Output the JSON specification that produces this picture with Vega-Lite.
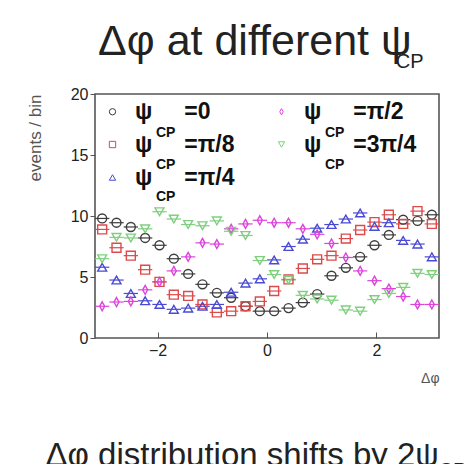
{
  "$schema": "https://vega.github.io/schema/vega-lite/v6.json",
  "background": "white",
  "padding": {"left": 25, "top": 20, "right": 0, "bottom": 0},
  "title": {
    "text": "Δφ distribution shifts by 2ψ\u00a0\u00a0\u00a0\u200b",
    "subtitle": "CP",
    "orient": "bottom",
    "anchor": "end",
    "fontSize": 33,
    "fontWeight": "normal",
    "subtitleFontSize": 20,
    "subtitlePadding": -12,
    "color": "#222",
    "subtitleColor": "#222",
    "offset": 54,
    "dx": 26
  },
  "datasets": {
    "bins": [
      {"i": 0, "lo": -3.1416, "mid": -3.0107, "hi": -2.8798},
      {"i": 1, "lo": -2.8798, "mid": -2.7489, "hi": -2.618},
      {"i": 2, "lo": -2.618, "mid": -2.4871, "hi": -2.3562},
      {"i": 3, "lo": -2.3562, "mid": -2.2253, "hi": -2.0944},
      {"i": 4, "lo": -2.0944, "mid": -1.9635, "hi": -1.8326},
      {"i": 5, "lo": -1.8326, "mid": -1.7017, "hi": -1.5708},
      {"i": 6, "lo": -1.5708, "mid": -1.4399, "hi": -1.309},
      {"i": 7, "lo": -1.309, "mid": -1.1781, "hi": -1.0472},
      {"i": 8, "lo": -1.0472, "mid": -0.9163, "hi": -0.7854},
      {"i": 9, "lo": -0.7854, "mid": -0.6545, "hi": -0.5236},
      {"i": 10, "lo": -0.5236, "mid": -0.3927, "hi": -0.2618},
      {"i": 11, "lo": -0.2618, "mid": -0.1309, "hi": 0},
      {"i": 12, "lo": 0, "mid": 0.1309, "hi": 0.2618},
      {"i": 13, "lo": 0.2618, "mid": 0.3927, "hi": 0.5236},
      {"i": 14, "lo": 0.5236, "mid": 0.6545, "hi": 0.7854},
      {"i": 15, "lo": 0.7854, "mid": 0.9163, "hi": 1.0472},
      {"i": 16, "lo": 1.0472, "mid": 1.1781, "hi": 1.309},
      {"i": 17, "lo": 1.309, "mid": 1.4399, "hi": 1.5708},
      {"i": 18, "lo": 1.5708, "mid": 1.7017, "hi": 1.8326},
      {"i": 19, "lo": 1.8326, "mid": 1.9635, "hi": 2.0944},
      {"i": 20, "lo": 2.0944, "mid": 2.2253, "hi": 2.3562},
      {"i": 21, "lo": 2.3562, "mid": 2.4871, "hi": 2.618},
      {"i": 22, "lo": 2.618, "mid": 2.7489, "hi": 2.8798},
      {"i": 23, "lo": 2.8798, "mid": 3.0107, "hi": 3.1416}
    ],
    "counts": [
      {"s": "0", "i": 0, "n": 9.8}, {"s": "0", "i": 1, "n": 9.45}, {"s": "0", "i": 2, "n": 9.1}, {"s": "0", "i": 3, "n": 8.2},
      {"s": "0", "i": 4, "n": 7.6}, {"s": "0", "i": 5, "n": 6.5}, {"s": "0", "i": 6, "n": 5.25}, {"s": "0", "i": 7, "n": 4.4},
      {"s": "0", "i": 8, "n": 3.7}, {"s": "0", "i": 9, "n": 3.3}, {"s": "0", "i": 10, "n": 2.6}, {"s": "0", "i": 11, "n": 2.2},
      {"s": "0", "i": 12, "n": 2.2}, {"s": "0", "i": 13, "n": 2.45}, {"s": "0", "i": 14, "n": 2.9}, {"s": "0", "i": 15, "n": 3.6},
      {"s": "0", "i": 16, "n": 5.1}, {"s": "0", "i": 17, "n": 5.75}, {"s": "0", "i": 18, "n": 6.65}, {"s": "0", "i": 19, "n": 7.6},
      {"s": "0", "i": 20, "n": 8.45}, {"s": "0", "i": 21, "n": 9.7}, {"s": "0", "i": 22, "n": 9.6}, {"s": "0", "i": 23, "n": 10.1},
      {"s": "π/8", "i": 0, "n": 8.9}, {"s": "π/8", "i": 1, "n": 7.4}, {"s": "π/8", "i": 2, "n": 6.75}, {"s": "π/8", "i": 3, "n": 5.6},
      {"s": "π/8", "i": 4, "n": 4.6}, {"s": "π/8", "i": 5, "n": 3.55}, {"s": "π/8", "i": 6, "n": 3.45}, {"s": "π/8", "i": 7, "n": 2.75},
      {"s": "π/8", "i": 8, "n": 2.1}, {"s": "π/8", "i": 9, "n": 2.2}, {"s": "π/8", "i": 10, "n": 2.6}, {"s": "π/8", "i": 11, "n": 3.0},
      {"s": "π/8", "i": 12, "n": 3.85}, {"s": "π/8", "i": 13, "n": 4.8}, {"s": "π/8", "i": 14, "n": 5.7}, {"s": "π/8", "i": 15, "n": 6.45},
      {"s": "π/8", "i": 16, "n": 6.75}, {"s": "π/8", "i": 17, "n": 8.15}, {"s": "π/8", "i": 18, "n": 8.85}, {"s": "π/8", "i": 19, "n": 9.5},
      {"s": "π/8", "i": 20, "n": 10.1}, {"s": "π/8", "i": 21, "n": 9.35}, {"s": "π/8", "i": 22, "n": 10.4}, {"s": "π/8", "i": 23, "n": 9.35},
      {"s": "π/4", "i": 0, "n": 5.8}, {"s": "π/4", "i": 1, "n": 4.75}, {"s": "π/4", "i": 2, "n": 3.65}, {"s": "π/4", "i": 3, "n": 3.05},
      {"s": "π/4", "i": 4, "n": 2.75}, {"s": "π/4", "i": 5, "n": 2.35}, {"s": "π/4", "i": 6, "n": 2.45}, {"s": "π/4", "i": 7, "n": 2.6},
      {"s": "π/4", "i": 8, "n": 2.75}, {"s": "π/4", "i": 9, "n": 3.75}, {"s": "π/4", "i": 10, "n": 4.5}, {"s": "π/4", "i": 11, "n": 4.85},
      {"s": "π/4", "i": 12, "n": 6.4}, {"s": "π/4", "i": 13, "n": 7.5}, {"s": "π/4", "i": 14, "n": 8.1}, {"s": "π/4", "i": 15, "n": 9.0},
      {"s": "π/4", "i": 16, "n": 9.3}, {"s": "π/4", "i": 17, "n": 9.75}, {"s": "π/4", "i": 18, "n": 10.25}, {"s": "π/4", "i": 19, "n": 9.15},
      {"s": "π/4", "i": 20, "n": 9.45}, {"s": "π/4", "i": 21, "n": 8.0}, {"s": "π/4", "i": 22, "n": 7.7}, {"s": "π/4", "i": 23, "n": 6.65},
      {"s": "π/2", "i": 0, "n": 2.6}, {"s": "π/2", "i": 1, "n": 2.95}, {"s": "π/2", "i": 2, "n": 3.0}, {"s": "π/2", "i": 3, "n": 3.95},
      {"s": "π/2", "i": 4, "n": 4.6}, {"s": "π/2", "i": 5, "n": 5.5}, {"s": "π/2", "i": 6, "n": 6.65}, {"s": "π/2", "i": 7, "n": 7.8},
      {"s": "π/2", "i": 8, "n": 7.7}, {"s": "π/2", "i": 9, "n": 8.95}, {"s": "π/2", "i": 10, "n": 9.35}, {"s": "π/2", "i": 11, "n": 9.65},
      {"s": "π/2", "i": 12, "n": 9.45}, {"s": "π/2", "i": 13, "n": 9.45}, {"s": "π/2", "i": 14, "n": 8.95}, {"s": "π/2", "i": 15, "n": 8.5},
      {"s": "π/2", "i": 16, "n": 7.75}, {"s": "π/2", "i": 17, "n": 6.6}, {"s": "π/2", "i": 18, "n": 5.5}, {"s": "π/2", "i": 19, "n": 4.7},
      {"s": "π/2", "i": 20, "n": 4.05}, {"s": "π/2", "i": 21, "n": 3.4}, {"s": "π/2", "i": 22, "n": 2.75}, {"s": "π/2", "i": 23, "n": 2.75},
      {"s": "3π/4", "i": 0, "n": 6.5}, {"s": "3π/4", "i": 1, "n": 8.25}, {"s": "3π/4", "i": 2, "n": 8.2}, {"s": "3π/4", "i": 3, "n": 8.95},
      {"s": "3π/4", "i": 4, "n": 10.35}, {"s": "3π/4", "i": 5, "n": 9.75}, {"s": "3π/4", "i": 6, "n": 9.3}, {"s": "3π/4", "i": 7, "n": 9.2},
      {"s": "3π/4", "i": 8, "n": 9.6}, {"s": "3π/4", "i": 9, "n": 8.75}, {"s": "3π/4", "i": 10, "n": 8.4}, {"s": "3π/4", "i": 11, "n": 6.35},
      {"s": "3π/4", "i": 12, "n": 5.2}, {"s": "3π/4", "i": 13, "n": 4.75}, {"s": "3π/4", "i": 14, "n": 3.5}, {"s": "3π/4", "i": 15, "n": 3.2},
      {"s": "3π/4", "i": 16, "n": 3.1}, {"s": "3π/4", "i": 17, "n": 2.3}, {"s": "3π/4", "i": 18, "n": 2.2}, {"s": "3π/4", "i": 19, "n": 3.15},
      {"s": "3π/4", "i": 20, "n": 3.65}, {"s": "3π/4", "i": 21, "n": 4.15}, {"s": "3π/4", "i": 22, "n": 5.3}, {"s": "3π/4", "i": 23, "n": 5.2}
    ]
  },
  "vconcat": [
    {
      "width": 344,
      "height": 244,
      "title": {
        "text": "Δφ at different ψ\u00a0\u200b",
        "subtitle": "CP",
        "anchor": "end",
        "fontSize": 43,
        "fontWeight": "normal",
        "subtitleFontSize": 20,
        "subtitlePadding": -12,
        "color": "#222",
        "subtitleColor": "#222",
        "offset": 14,
        "dx": -16
      },
      "data": {"name": "counts"},
      "transform": [
        {"lookup": "i", "from": {"data": {"name": "bins"}, "key": "i", "fields": ["lo", "mid", "hi"]}}
      ],
      "layer": [
        {
          "mark": {"type": "rule", "strokeWidth": 1.2},
          "encoding": {
            "x": {"field": "lo", "type": "quantitative", "title": "Δφ",
                  "scale": {"domain": [-3.1416, 3.1416], "nice": false, "zero": false},
                  "axis": {"values": [-2, 0, 2], "format": "d"}},
            "x2": {"field": "hi"},
            "y": {"field": "n", "type": "quantitative", "title": "events / bin",
                  "scale": {"domain": [0, 20], "nice": false},
                  "axis": {"values": [0, 5, 10, 15, 20]}},
            "stroke": {"field": "s", "type": "nominal",
                       "scale": {"domain": ["0", "π/8", "π/4", "π/2", "3π/4"],
                                 "range": ["#3c3c3c", "#dd4a4a", "#4a4ad4", "#dd44dd", "#7fcf7f"]}}
          }
        },
        {
          "mark": {"type": "point", "filled": false, "size": 80, "strokeWidth": 1.4, "opacity": 1},
          "encoding": {
            "x": {"field": "mid", "type": "quantitative", "title": "Δφ",
                  "axis": {"values": [-2, 0, 2], "format": "d"}},
            "y": {"field": "n", "type": "quantitative", "title": "events / bin",
                  "axis": {"values": [0, 5, 10, 15, 20]}},
            "stroke": {"field": "s", "type": "nominal",
                       "legend": {"orient": "top-left", "title": null, "columns": 2,
                                  "columnPadding": 35, "rowPadding": 9, "offset": 6, "padding": 0,
                                  "labelExpr": "'ψ\u00a0\u00a0\u00a0\u00a0\u00a0=' + datum.label",
                                  "labelFontSize": 23, "labelFontWeight": "bold", "labelColor": "#111",
                                  "labelOffset": 11, "symbolSize": 40, "symbolStrokeWidth": 1,
                                  "labelLimit": 300}},
            "shape": {"field": "s", "type": "nominal",
                      "scale": {"domain": ["0", "π/8", "π/4", "π/2", "3π/4"],
                                "range": ["circle", "square", "triangle-up", "M0,-1L0.55,0L0,1L-0.55,0Z", "triangle-down"]},
                      "legend": {"orient": "top-left"}},
            "opacity": {"field": "s", "type": "ordinal",
                        "sort": ["0", "π/8", "π/4", "π/2", "3π/4"],
                        "scale": {"range": [1, 1, 1, 1, 1]},
                        "legend": {"orient": "none", "legendX": 47, "legendY": 32, "title": null,
                                   "columns": 2, "columnPadding": 135, "rowPadding": 18, "padding": 0,
                                   "labelExpr": "'CP'", "labelFontSize": 14, "labelFontWeight": "bold",
                                   "labelColor": "#111", "labelOffset": 0, "symbolSize": 0.01,
                                   "symbolStrokeWidth": 0, "symbolType": "circle"}}
          }
        }
      ]
    }
  ],
  "config": {
    "font": "Liberation Sans",
    "view": {"stroke": "#555", "strokeWidth": 1.6},
    "axis": {"grid": false, "domain": false, "tickColor": "#555", "labelColor": "#222",
             "labelFontSize": 16, "titleFontWeight": "normal", "titleColor": "#555"},
    "axisX": {"tickSize": -6, "labelPadding": 10, "titleAnchor": "end",
              "titleFontSize": 14, "titlePadding": 13},
    "axisY": {"tickSize": 5, "labelPadding": 2, "titleAnchor": "end",
              "titleFontSize": 17, "titlePadding": 26}
  }
}
